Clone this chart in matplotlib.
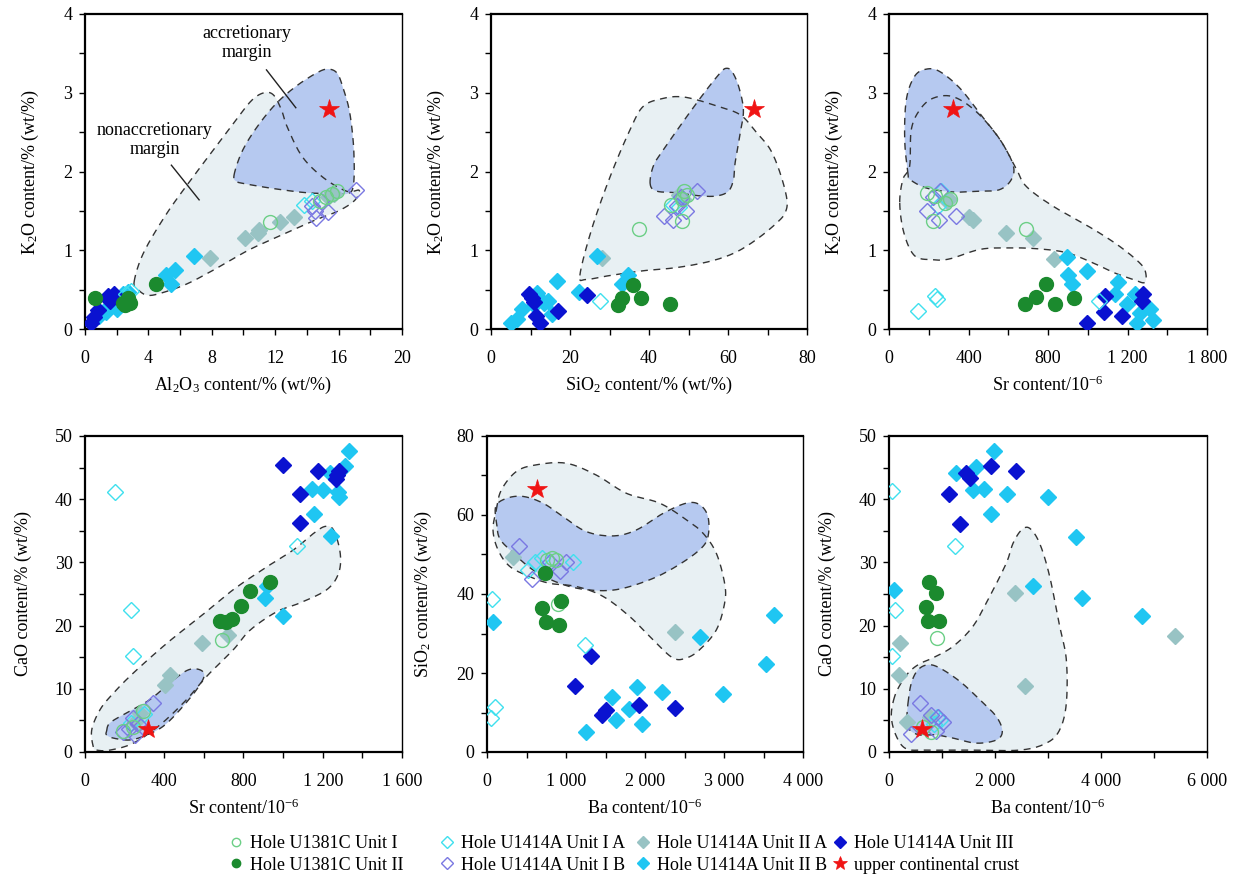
import numpy as np
import matplotlib
matplotlib.use('Agg')
import matplotlib.pyplot as plt
from matplotlib.ticker import MultipleLocator, FixedLocator, FuncFormatter
from matplotlib.lines import Line2D

plt.rcParams['font.family'] = ['Liberation Serif', 'DejaVu Serif']
plt.rcParams['mathtext.fontset'] = 'custom'
plt.rcParams['mathtext.rm'] = 'Liberation Serif'
plt.rcParams['mathtext.it'] = 'Liberation Serif:italic'
plt.rcParams['mathtext.bf'] = 'Liberation Serif:bold'
plt.rcParams['font.size'] = 13

# ---------------- data ----------------
SERIES_NAMES = ['Hole U1381C Unit I', 'Hole U1381C Unit II', 'Hole U1414A Unit I A',
                'Hole U1414A Unit I B', 'Hole U1414A Unit II A', 'Hole U1414A Unit II B',
                'Hole U1414A Unit III', 'upper continental crust']

# upper continental crust
UCC_AL2O3, UCC_K2O, UCC_SIO2, UCC_SR, UCC_BA, UCC_CAO = 15.4, 2.8, 66.6, 320, 628, 3.59

# Panel 1: Al2O3 (x) vs K2O (y)
AL_K_U1381C_I = [(11.7, 1.36), (15.6, 1.72), (15.2, 1.68), (14.8, 1.62), (15.9, 1.75)]
AL_K_U1381C_II = [(0.65, 0.40), (4.5, 0.57), (2.4, 0.33), (2.85, 0.33), (2.7, 0.40), (2.5, 0.30)]
AL_K_IA = [(2.6, 0.44), (2.9, 0.48), (13.8, 1.58), (14.3, 1.62)]
AL_K_IB = [(17.1, 1.76), (14.3, 1.56), (14.6, 1.41), (15.35, 1.48), (14.5, 1.50), (14.9, 1.62)]
AL_K_IIA = [(7.9, 0.90), (10.1, 1.16), (10.9, 1.22), (11.0, 1.26), (12.3, 1.36), (13.2, 1.42),
            (15.3, 1.68), (15.7, 1.72)]
AL_K_IIB = [(0.9, 0.17), (1.3, 0.21), (1.6, 0.30), (2.0, 0.25), (2.4, 0.44), (2.7, 0.47),
            (5.1, 0.68), (5.7, 0.75), (5.45, 0.57), (6.9, 0.93)]
AL_K_III = [(0.35, 0.08), (0.55, 0.15), (0.85, 0.24), (1.45, 0.42), (1.6, 0.36), (1.8, 0.45), (1.5, 0.38)]
AL_K_NONACC = [(3.1, 0.60), (3.7, 0.97), (5.2, 1.48), (7.0, 1.98), (8.2, 2.3), (9.4, 2.62), (10.5, 2.9),
               (11.3, 3.0), (11.9, 2.97), (12.4, 2.78), (12.75, 2.57), (13.7, 2.19), (15.05, 1.92),
               (16.5, 1.75), (17.3, 1.76), (17.0, 1.63), (16.0, 1.50), (14.6, 1.39), (12.5, 1.2),
               (10.4, 1.01), (8.3, 0.77), (6.4, 0.57), (4.7, 0.45), (3.9, 0.43), (3.35, 0.50)]
AL_K_ACC = [(9.4, 1.95), (9.9, 2.25), (10.8, 2.55), (12.0, 2.85), (13.3, 3.08), (14.6, 3.25), (15.3, 3.3),
            (15.9, 3.25), (16.3, 3.05), (16.7, 2.75), (16.95, 2.3), (16.95, 1.85), (16.6, 1.72),
            (15.5, 1.72), (14.0, 1.73), (12.0, 1.78), (10.2, 1.84), (9.6, 1.87)]

# Panel 2: SiO2 (x) vs K2O (y)
SI_K_U1381C_I = [(37.5, 1.27), (48.9, 1.75), (48.3, 1.37), (48.3, 1.65), (45.5, 1.58), (49.5, 1.70)]
SI_K_U1381C_II = [(36.0, 0.56), (38.1, 0.40), (33.1, 0.39), (32.2, 0.30), (45.3, 0.32)]
SI_K_IA = [(27.6, 0.36), (46.2, 1.58), (47.5, 1.55)]
SI_K_IB = [(43.8, 1.43), (46.2, 1.39), (52.1, 1.75), (49.4, 1.50), (47.0, 1.56), (48.0, 1.68)]
SI_K_IIA = [(28.0, 0.90), (48.5, 1.65), (47.5, 1.70)]
SI_K_IIB = [(5.0, 0.08), (6.5, 0.13), (7.8, 0.25), (11.6, 0.46), (13.5, 0.33), (14.5, 0.36), (15.5, 0.19),
            (16.6, 0.61), (22.4, 0.47), (26.8, 0.93), (33.1, 0.57), (34.8, 0.68), (10.8, 0.30)]
SI_K_III = [(9.5, 0.45), (11.0, 0.34), (11.5, 0.17), (12.4, 0.08), (17.0, 0.23), (24.2, 0.43), (10.5, 0.40)]
SI_K_NONACC = [(22.5, 0.68), (25.5, 1.27), (30.2, 1.94), (35.2, 2.53), (38.6, 2.83), (43.7, 2.93),
               (47.9, 2.95), (52.1, 2.91), (57.2, 2.83), (63.1, 2.72), (67.3, 2.49), (70.7, 2.28),
               (73.2, 1.98), (74.9, 1.65), (74.5, 1.48), (72.4, 1.35), (67.3, 1.14), (61.8, 0.97),
               (55.5, 0.86), (47.0, 0.78), (38.6, 0.74), (30.2, 0.68), (24.2, 0.63)]
SI_K_ACC = [(40.3, 1.84), (41.1, 2.07), (43.7, 2.28), (49.6, 2.70), (54.6, 3.04), (58.0, 3.25), (59.5, 3.31),
            (61.0, 3.27), (62.7, 3.08), (63.9, 2.78), (63.1, 2.49), (61.8, 2.11), (61.4, 1.90), (60.1, 1.75),
            (57.2, 1.69), (53.0, 1.69), (47.0, 1.73), (42.0, 1.75)]

# Panel 3: Sr (x) vs K2O (y)
SR_K_XTICKLABELS = ['0', '400', '800', '1 200', '1 800']
SR_K_U1381C_I = [(691, 1.27), (230, 1.69), (221, 1.37), (305, 1.65), (190, 1.73), (280, 1.60)]
SR_K_U1381C_II = [(686, 0.32), (741, 0.41), (792, 0.57), (833, 0.32), (929, 0.39)]
SR_K_IA = [(146, 0.23), (230, 0.42), (240, 0.38), (246, 1.56), (260, 1.75), (1056, 0.35)]
SR_K_IB = [(191, 1.50), (252, 1.39), (339, 1.43), (255, 1.75), (221, 1.67)]
SR_K_IIA = [(405, 1.42), (424, 1.38), (589, 1.22), (723, 1.15), (830, 0.89), (290, 1.62), (300, 1.65)]
SR_K_IIB = [(894, 0.92), (995, 0.74), (902, 0.69), (919, 0.57), (1153, 0.60), (1137, 0.45), (1196, 0.32),
            (1237, 0.45), (1262, 0.20), (1313, 0.26), (1330, 0.12), (1246, 0.08)]
SR_K_III = [(995, 0.08), (1087, 0.42), (1082, 0.22), (1171, 0.16), (1279, 0.44), (1271, 0.35)]
SR_K_NONACC = [(54, 1.60), (75, 1.22), (129, 0.93), (220, 0.88), (305, 0.89), (456, 1.01), (590, 1.03),
               (741, 1.02), (892, 0.97), (1026, 0.84), (1127, 0.72), (1228, 0.63), (1286, 0.59),
               (1291, 0.72), (1261, 0.84), (1160, 1.05), (1026, 1.27), (825, 1.56), (691, 1.81),
               (641, 2.03), (557, 2.41), (439, 2.76), (322, 2.95), (221, 2.93), (154, 2.78),
               (112, 2.53), (104, 2.07), (70, 1.90)]
SR_K_ACC = [(96, 1.96), (79, 2.40), (87, 2.91), (129, 3.21), (188, 3.30), (255, 3.27), (356, 3.06),
            (456, 2.74), (557, 2.41), (624, 2.09), (616, 1.90), (557, 1.77), (456, 1.75), (322, 1.74),
            (188, 1.79), (104, 1.90)]

# Panel 4: Sr (x) vs CaO (y)
SR_CA_U1381C_I = [(690, 17.8), (194, 3.3), (295, 6.5), (240, 4.0)]
SR_CA_U1381C_II = [(682, 20.8), (710, 20.6), (741, 21.0), (786, 23.1), (834, 25.4), (935, 26.9)]
SR_CA_IA = [(152, 41.2), (231, 22.4), (241, 15.2), (1069, 32.6), (230, 4.6), (300, 6.0)]
SR_CA_IB = [(345, 7.7), (194, 3.1), (244, 5.4), (253, 2.7), (222, 3.6), (270, 4.5)]
SR_CA_IIA = [(589, 17.2), (724, 18.5), (429, 12.2), (404, 10.6), (278, 6.2), (250, 4.8)]
SR_CA_IIB = [(1335, 47.7), (1313, 45.2), (1238, 44.1), (1145, 41.6), (1201, 41.5), (1275, 41.2),
             (1280, 40.3), (1157, 37.7), (1241, 34.1), (999, 21.5), (909, 24.3), (918, 26.3)]
SR_CA_III = [(999, 45.4), (1083, 40.8), (1083, 36.2), (1174, 44.5), (1271, 43.8), (1280, 44.4), (1265, 43.2)]
SR_CA_NONACC = [(42, 0.8), (34, 3.5), (76, 6.7), (143, 9.3), (244, 12.5), (413, 17.2), (581, 21.4),
                (749, 25.7), (918, 29.3), (1053, 32.0), (1154, 34.6), (1213, 35.7), (1255, 35.1),
                (1288, 31.5), (1280, 28.3), (1221, 25.7), (1086, 23.6), (968, 22.2), (834, 19.3),
                (749, 16.2), (615, 12.0), (513, 8.3), (379, 4.3), (244, 1.4), (126, 0.3), (59, 0.3)]
SR_CA_ACC = [(109, 3.3), (126, 4.6), (210, 6.2), (328, 8.3), (446, 11.4), (522, 13.0), (581, 13.0),
             (601, 12.0), (564, 9.9), (480, 6.7), (396, 4.1), (312, 2.7), (227, 1.9), (143, 2.2), (109, 2.7)]

# Panel 5: Ba (x) vs SiO2 (y)
BA_SI_U1381C_I = [(756, 48.6), (877, 48.5), (899, 37.4), (820, 49.0)]
BA_SI_U1381C_II = [(738, 45.3), (696, 36.4), (743, 33.0), (907, 32.2), (941, 38.3)]
BA_SI_IA = [(59, 38.7), (97, 11.5), (46, 8.6), (1245, 27.1), (523, 46.1), (608, 48.2), (1093, 48.2), (700, 49.0)]
BA_SI_IB = [(409, 52.2), (566, 43.7), (924, 45.9), (1000, 48.2), (798, 48.2)]
BA_SI_IIA = [(333, 49.3), (2375, 30.5)]
BA_SI_IIB = [(76, 33.0), (1249, 5.1), (1578, 13.8), (1637, 8.0), (1793, 11.0), (1903, 16.4), (1962, 7.2),
             (2215, 15.3), (2700, 29.0), (2987, 14.8), (3527, 22.3), (3628, 34.7)]
BA_SI_III = [(1321, 24.2), (1110, 16.8), (1460, 9.3), (1510, 10.7), (1924, 12.0), (2375, 11.1)]
BA_SI_NONACC = [(118, 61.3), (181, 66.3), (371, 71.0), (624, 72.7), (1004, 73.1), (1384, 70.1),
                (1764, 65.5), (2185, 63.0), (2523, 58.8), (2734, 55.4), (2903, 50.3), (3008, 42.7),
                (3008, 37.7), (2903, 30.9), (2692, 25.9), (2523, 23.8), (2354, 23.8), (2101, 28.4),
                (1806, 34.3), (1468, 39.4), (1131, 41.9), (793, 42.7), (540, 44.4), (287, 47.0),
                (139, 51.2), (76, 56.2)]
BA_SI_ACC = [(127, 57.1), (110, 62.1), (245, 64.2), (456, 64.7), (709, 63.0), (962, 59.6), (1257, 55.8),
             (1595, 54.7), (1890, 56.2), (2228, 60.4), (2523, 63.0), (2692, 62.6), (2797, 59.6),
             (2797, 54.5), (2692, 51.2), (2396, 47.0), (2059, 43.6), (1637, 41.1), (1257, 41.1),
             (920, 42.7), (582, 46.1), (287, 51.2), (160, 54.1)]

# Panel 6: Ba (x) vs CaO (y)
BA_CA_U1381C_I = [(906, 18.0), (650, 4.0), (800, 3.2)]
BA_CA_U1381C_II = [(748, 26.9), (893, 25.2), (704, 23.0), (736, 20.8), (943, 20.8)]
BA_CA_IA = [(63, 41.3), (107, 22.5), (63, 15.2), (1239, 32.6), (900, 5.5), (960, 5.0), (850, 4.5)]
BA_CA_IB = [(579, 7.7), (421, 2.9), (925, 5.6), (1019, 4.8), (799, 5.9), (893, 3.3)]
BA_CA_IIA = [(201, 17.2), (182, 12.2), (2383, 25.2), (2572, 10.5), (5390, 18.4), (340, 4.8), (780, 5.5)]
BA_CA_IIB = [(1981, 47.6), (1258, 44.1), (1635, 45.1), (1585, 41.5), (1792, 41.6), (2233, 40.9),
             (3006, 40.3), (1918, 37.7), (3534, 34.0), (2717, 26.2), (3648, 24.3), (4780, 21.5), (88, 25.7)]
BA_CA_III = [(1931, 45.3), (1459, 44.2), (1522, 43.3), (2390, 44.4), (1132, 40.8), (1333, 36.1)]
BA_CA_NONACC = [(107, 8.8), (44, 5.6), (138, 2.5), (327, 0.5), (704, 0.3), (1522, 0.3), (2465, 0.3),
                (2968, 1.4), (3220, 3.5), (3346, 7.7), (3346, 14.6), (3220, 19.9), (3031, 27.8),
                (2843, 33.0), (2654, 35.4), (2497, 35.1), (2339, 33.0), (2214, 29.9), (1899, 24.6),
                (1585, 19.9), (1207, 16.7), (830, 14.9), (610, 14.1), (421, 13.0), (264, 11.4)]
BA_CA_ACC = [(358, 7.7), (421, 10.9), (547, 13.0), (736, 13.8), (956, 13.3), (1333, 11.2), (1711, 8.3),
             (2025, 5.6), (2138, 3.3), (2025, 1.9), (1648, 1.4), (1207, 2.2), (893, 2.7), (579, 2.7),
             (390, 3.5), (340, 5.1)]

# ---------------- styles ----------------
STYLES = {
    'Hole U1381C Unit I': dict(marker='o', mfc='none', mec='#6ccf86', ms=10, mew=1.0),
    'Hole U1381C Unit II': dict(marker='o', mfc='#1b8a2e', mec='#1b8a2e', ms=10, mew=1.0),
    'Hole U1414A Unit I A': dict(marker='D', mfc='none', mec='#3fe0ee', ms=8.3, mew=1.0),
    'Hole U1414A Unit I B': dict(marker='D', mfc='none', mec='#7a78e2', ms=8.3, mew=1.0),
    'Hole U1414A Unit II A': dict(marker='D', mfc='#98c3c4', mec='#98c3c4', ms=8.3, mew=1.0),
    'Hole U1414A Unit II B': dict(marker='D', mfc='#1fc6f2', mec='#1fc6f2', ms=8.3, mew=1.0),
    'Hole U1414A Unit III': dict(marker='D', mfc='#0a12d0', mec='#0a12d0', ms=8.3, mew=1.0),
    'upper continental crust': dict(marker='*', mfc='#f01414', mec='#f01414', ms=15, mew=0.5),
}
DRAW_ORDER = ['Hole U1414A Unit II A', 'Hole U1414A Unit II B', 'Hole U1414A Unit III',
              'Hole U1414A Unit I A', 'Hole U1414A Unit I B', 'Hole U1381C Unit I',
              'Hole U1381C Unit II']
LIGHT_FILL = '#e8f0f3'
BLUE_FILL = '#b6c9f0'


def smooth_closed(pts, n=24):
    P = np.asarray(pts, float)
    m = len(P)
    t = np.linspace(0, 1, n, endpoint=False)[:, None]
    segs = []
    for i in range(m):
        p0, p1, p2, p3 = P[i - 1], P[i], P[(i + 1) % m], P[(i + 2) % m]
        segs.append(0.5 * (2 * p1 + (-p0 + p2) * t + (2 * p0 - 5 * p1 + 4 * p2 - p3) * t ** 2
                           + (-p0 + 3 * p1 - 3 * p2 + p3) * t ** 3))
    out = np.vstack(segs)
    return np.vstack([out, out[:1]])


def fmt_space(v, pos):
    return f"{int(round(v)):,}".replace(',', ' ')


def panel(ax, series, nonacc, acc, ucc, xlim, ylim, xmaj, xmin, ymaj, ymin, xlabel, ylabel,
          xticklabels=None):
    nx = smooth_closed(nonacc)
    bx = smooth_closed(acc)
    ax.fill(nx[:, 0], nx[:, 1], color=LIGHT_FILL, lw=0, zorder=1)
    ax.fill(bx[:, 0], bx[:, 1], color=BLUE_FILL, lw=0, zorder=1.5)
    ax.plot(nx[:, 0], nx[:, 1], color='#333333', lw=1.0, dashes=(5, 4), zorder=2)
    ax.plot(bx[:, 0], bx[:, 1], color='#333333', lw=1.0, dashes=(5, 4), zorder=2)
    for name in DRAW_ORDER:
        pts = np.asarray(series[name], float)
        ax.plot(pts[:, 0], pts[:, 1], ls='none', zorder=3, **STYLES[name])
    ax.plot([ucc[0]], [ucc[1]], ls='none', zorder=4, **STYLES['upper continental crust'])

    ax.set_xlim(*xlim)
    ax.set_ylim(*ylim)
    ax.xaxis.set_major_locator(MultipleLocator(xmaj))
    ax.xaxis.set_minor_locator(MultipleLocator(xmin))
    ax.yaxis.set_major_locator(MultipleLocator(ymaj))
    ax.yaxis.set_minor_locator(MultipleLocator(ymin))
    if xticklabels is not None:
        ticks = np.arange(xlim[0], xlim[1] + 1e-9, xmaj)
        ax.xaxis.set_major_locator(FixedLocator(ticks))
        ax.set_xticklabels(xticklabels)
    else:
        ax.xaxis.set_major_formatter(FuncFormatter(fmt_space))
    ax.yaxis.set_major_formatter(FuncFormatter(fmt_space))
    ax.tick_params(which='both', direction='out', length=4, width=1.0, labelsize=13)
    ax.tick_params(axis='x', which='both', pad=11)
    ax.tick_params(axis='y', which='both', pad=5)
    ax.spines['right'].set_linewidth(1.0)
    for side in ['left', 'bottom', 'top']:
        ax.spines[side].set_linewidth(1.6)
    ax.set_xlabel(xlabel, fontsize=13, labelpad=6)
    ax.set_ylabel(ylabel, fontsize=13, labelpad=16)


def as_series(u1, u2, ia, ib, iia, iib, iii):
    return {'Hole U1381C Unit I': u1, 'Hole U1381C Unit II': u2, 'Hole U1414A Unit I A': ia,
            'Hole U1414A Unit I B': ib, 'Hole U1414A Unit II A': iia, 'Hole U1414A Unit II B': iib,
            'Hole U1414A Unit III': iii}


W, H = 1236, 877
fig = plt.figure(figsize=(W / 100, H / 100), dpi=100)
fig.patch.set_facecolor('white')


def add_ax(left_px, top_px, right_px, bottom_px):
    return fig.add_axes([left_px / W, 1 - bottom_px / H, (right_px - left_px) / W, (bottom_px - top_px) / H])


ax1 = add_ax(85, 14, 402, 329)
ax2 = add_ax(491, 14, 807, 329)
ax3 = add_ax(889, 14, 1207, 329)
ax4 = add_ax(85, 436, 402, 752)
ax5 = add_ax(487, 436, 803, 752)
ax6 = add_ax(889, 436, 1207, 752)

K_LABEL = 'K$_2$O content/% (wt/%)'
CA_LABEL = 'CaO content/% (wt/%)'
SI_LABEL = 'SiO$_2$ content/% (wt/%)'
SR_LABEL = 'Sr content/10$^{-6}$'
BA_LABEL = 'Ba content/10$^{-6}$'

panel(ax1, as_series(AL_K_U1381C_I, AL_K_U1381C_II, AL_K_IA, AL_K_IB, AL_K_IIA, AL_K_IIB, AL_K_III),
      AL_K_NONACC, AL_K_ACC, (UCC_AL2O3, UCC_K2O), (0, 20), (0, 4), 4, 2, 1, 0.5,
      'Al$_2$O$_3$ content/% (wt/%)', K_LABEL)
panel(ax2, as_series(SI_K_U1381C_I, SI_K_U1381C_II, SI_K_IA, SI_K_IB, SI_K_IIA, SI_K_IIB, SI_K_III),
      SI_K_NONACC, SI_K_ACC, (UCC_SIO2, UCC_K2O), (0, 80), (0, 4), 20, 10, 1, 0.5,
      SI_LABEL, K_LABEL)
panel(ax3, as_series(SR_K_U1381C_I, SR_K_U1381C_II, SR_K_IA, SR_K_IB, SR_K_IIA, SR_K_IIB, SR_K_III),
      SR_K_NONACC, SR_K_ACC, (UCC_SR, UCC_K2O), (0, 1600), (0, 4), 400, 200, 1, 0.5,
      SR_LABEL, K_LABEL, xticklabels=SR_K_XTICKLABELS)
panel(ax4, as_series(SR_CA_U1381C_I, SR_CA_U1381C_II, SR_CA_IA, SR_CA_IB, SR_CA_IIA, SR_CA_IIB, SR_CA_III),
      SR_CA_NONACC, SR_CA_ACC, (UCC_SR, UCC_CAO), (0, 1600), (0, 50), 400, 200, 10, 5,
      SR_LABEL, CA_LABEL)
panel(ax5, as_series(BA_SI_U1381C_I, BA_SI_U1381C_II, BA_SI_IA, BA_SI_IB, BA_SI_IIA, BA_SI_IIB, BA_SI_III),
      BA_SI_NONACC, BA_SI_ACC, (UCC_BA, UCC_SIO2), (0, 4000), (0, 80), 1000, 500, 20, 10,
      BA_LABEL, SI_LABEL)
panel(ax6, as_series(BA_CA_U1381C_I, BA_CA_U1381C_II, BA_CA_IA, BA_CA_IB, BA_CA_IIA, BA_CA_IIB, BA_CA_III),
      BA_CA_NONACC, BA_CA_ACC, (UCC_BA, UCC_CAO), (0, 6000), (0, 50), 2000, 1000, 10, 5,
      BA_LABEL, CA_LABEL)

# annotations in panel 1
ax1.text(10.2, 3.63, 'accretionary\nmargin', ha='center', va='center', fontsize=13, linespacing=1.1)
ax1.plot([11.45, 13.3], [3.29, 2.81], color='#222222', lw=1.0, zorder=5)
ax1.text(4.4, 2.40, 'nonaccretionary\nmargin', ha='center', va='center', fontsize=13, linespacing=1.1)
ax1.plot([5.45, 7.2], [2.08, 1.64], color='#222222', lw=1.0, zorder=5)

# legend: four columns of two entries each
LEGEND_COL_X = [236, 447, 643, 840]
for c, xpx in enumerate(LEGEND_COL_X):
    names = SERIES_NAMES[2 * c:2 * c + 2]
    hs = []
    for name in names:
        st = dict(STYLES[name])
        st['ms'] = 6 if name != 'upper continental crust' else 10
        hs.append(Line2D([], [], ls='none', **st))
    fig.legend(hs, names, loc='upper left', bbox_to_anchor=((xpx - 7) / W, 1 - 835 / H),
               frameon=False, fontsize=13, handlelength=0.8, handletextpad=0.35,
               labelspacing=0.25, borderpad=0, borderaxespad=0)

fig.savefig('out.png', dpi=100)
